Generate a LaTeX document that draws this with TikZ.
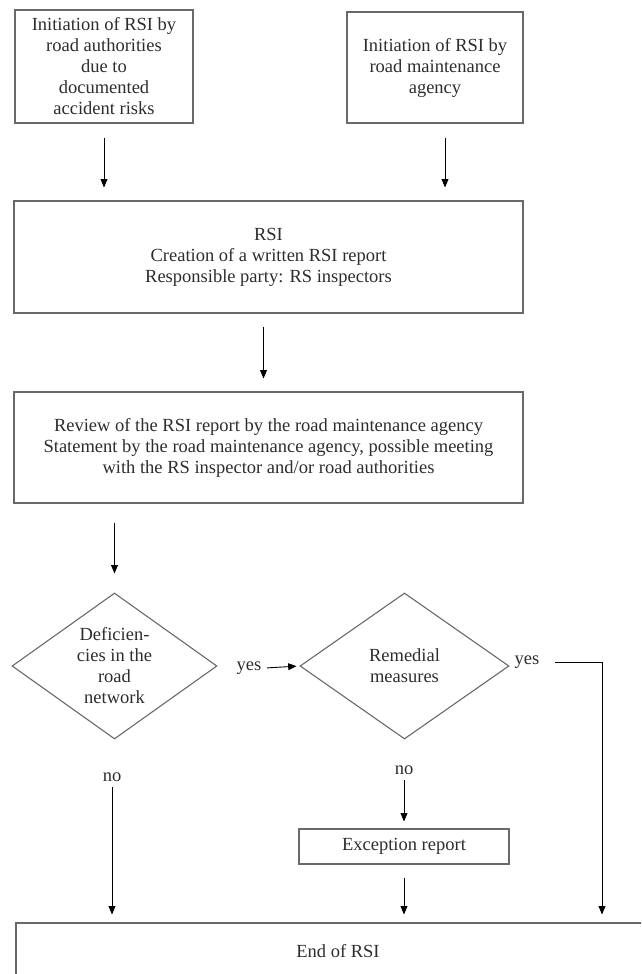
\documentclass[tikz,border=0pt]{standalone}
\usepackage{fontspec}
\setmainfont{Liberation Serif}
\usepackage{tikz}
\usetikzlibrary{arrows,shapes.geometric,positioning}
\definecolor{boxgray}{RGB}{105,105,105}
\definecolor{textgray}{RGB}{45,45,45}

\begin{document}
\begin{tikzpicture}[x=1pt,y=-1pt,line width=1.1pt]
\tikzstyle{block}=[rectangle,draw=boxgray,align=center,inner sep=0pt]
\tikzstyle{decide}=[diamond,draw=boxgray,align=center,inner sep=0pt,shape aspect=1.4]
\tikzstyle{arr}=[-triangle 45,black,line width=0.9pt,shorten <=13pt,shorten >=13pt]
\tikzstyle{every node}=[text=textgray,font=\fontsize{18.5}{21}\selectfont]
\useasboundingbox (0,0) rectangle (641,974);
\clip (0,0) rectangle (641,974);

% start of the inspection
\node[block,minimum width=178,minimum height=113] (initauth) at (104,66.5)
  {Initiation of RSI by\\road authorities\\due to\\documented\\accident risks};
\node[block,minimum width=176,minimum height=111] (initroad) at (435,67.5)
  {Initiation of RSI by\\road maintenance\\agency};
\node[block,minimum width=509,minimum height=112] (rsi) at (268.5,257)
  {RSI\\Creation of a written RSI report\\Responsible party: RS inspectors};
\node[block,minimum width=509,minimum height=111] (review) at (268.5,447.5)
  {Review of the RSI report by the road maintenance agency\\
   Statement by the road maintenance agency, possible meeting\\
   with the RS inspector and/or road authorities};

% decisions
\node[decide,minimum width=205,minimum height=146] (defic) at (114.5,666)
  {Deficien-\\cies in the\\road\\network};
\node[decide,minimum width=209,minimum height=146] (remedy) at (404.5,666)
  {Remedial\\measures};
\node (yes1) at (249,668) {yes};
\node (no1) at (112,777) {no};
\node (yes2) at (527,662) {yes};
\node (no2) at (404,770) {no};
\coordinate (turn) at (602,662);

\node[block,minimum width=210,minimum height=35] (except) at (404,846.5) {Exception report};
\node[block,minimum width=644,minimum height=56] (endrsi) at (338,951) {End of RSI};

% connectors
\draw[arr,shorten <=14pt] (initauth.south) -- (initauth.south |- rsi.north);
\draw[arr,shorten <=14pt] ([xshift=10pt]initroad.south) -- ([xshift=10pt]initroad.south |- rsi.north);
\draw[arr] ([xshift=-5pt]rsi.south) -- ([xshift=-5pt]rsi.south |- review.north);
\draw[arr,shorten <=19pt,shorten >=19pt] (defic |- review.south) -- (defic.north);
\draw[arr,shorten <=2pt,shorten >=3pt] (yes1.east) -- (remedy.west);
\draw[arr,shorten <=2pt,shorten >=8pt] (no1.south) -- (no1 |- endrsi.north);
\draw[arr,shorten <=2pt,shorten >=7pt] (no2.south) -- (no2.south |- except.north);
\draw[arr,shorten <=13pt,shorten >=8pt] (except.south) -- (except.south |- endrsi.north);
\draw[arr,shorten <=12pt,shorten >=8pt] (yes2.east) -| (turn |- endrsi.north);
\end{tikzpicture}
\end{document}
